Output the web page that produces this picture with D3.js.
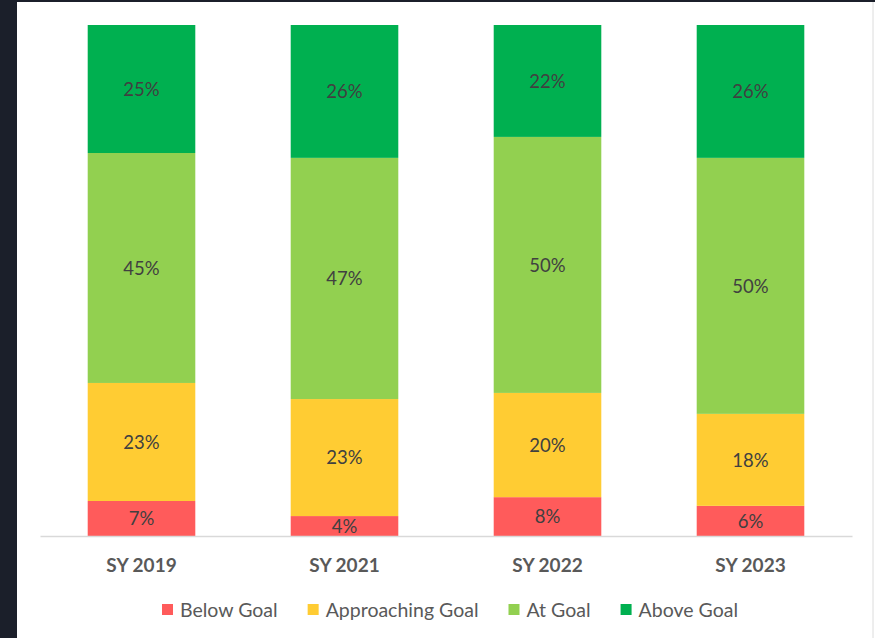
<!DOCTYPE html>
<html>
<head>
<meta charset="utf-8">
<script src="https://cdn.jsdelivr.net/npm/d3@7"></script>
<style>
  body { margin: 0; background: #1b1f2a; }
  svg { display: block; }
</style>
</head>
<body>
<div id="chart"></div>
<script>
// Chart data
var years = ["SY 2019", "SY 2021", "SY 2022", "SY 2023"];
var levels = ["Below Goal", "Approaching Goal", "At Goal", "Above Goal"];
var belowGoal = [6.85, 3.9, 7.6, 5.9];
var approachingGoal = [23.1, 22.9, 20.4, 18.0];
var atGoal = [45.0, 47.2, 50.1, 50.1];
var aboveGoal = [25.05, 26.0, 21.9, 26.0];
var colors = ["#ff5b5b", "#ffcc33", "#92d050", "#00b050"];

var svgWidth = 875;
var svgHeight = 638;

var svg = d3.select("#chart")
    .append("svg")
    .attr("width", svgWidth)
    .attr("height", svgHeight);

// dark frame + white panel
svg.append("rect")
    .attr("width", svgWidth)
    .attr("height", svgHeight)
    .attr("fill", "#1b1f2a");
svg.append("rect")
    .attr("x", 17)
    .attr("y", 2)
    .attr("width", svgWidth - 17)
    .attr("height", svgHeight - 2)
    .attr("fill", "#ffffff");
svg.append("line")
    .attr("x1", 873).attr("x2", 873)
    .attr("y1", 2).attr("y2", svgHeight)
    .attr("stroke", "#dcdcdc");

var plot = { left: 40, right: 852, top: 25, bottom: 536 };

// build rows for the stack
var rows = years.map(function (y, i) {
    return {
        year: y,
        "Below Goal": belowGoal[i],
        "Approaching Goal": approachingGoal[i],
        "At Goal": atGoal[i],
        "Above Goal": aboveGoal[i]
    };
});

var series = d3.stack().keys(levels)(rows);

var xScale = d3.scaleBand()
    .domain(years)
    .range([plot.left, plot.right])
    .paddingInner(0.47)
    .paddingOuter(0.235);

var yScale = d3.scaleLinear()
    .domain([0, 100])
    .range([plot.bottom, plot.top]);

var color = d3.scaleOrdinal().domain(levels).range(colors);

var groups = svg.append("g")
    .selectAll("g")
    .data(series)
    .enter()
    .append("g")
    .attr("fill", d => color(d.key));

groups.selectAll("rect")
    .data(d => d)
    .enter()
    .append("rect")
    .attr("x", d => xScale(d.data.year))
    .attr("y", d => yScale(d[1]))
    .attr("width", xScale.bandwidth())
    .attr("height", d => yScale(d[0]) - yScale(d[1]));

// value labels
groups.selectAll("text")
    .data(d => d)
    .enter()
    .append("text")
    .attr("x", d => xScale(d.data.year) + xScale.bandwidth() / 2)
    .attr("y", d => (yScale(d[0]) + yScale(d[1])) / 2)
    .attr("dy", "0.36em")
    .attr("text-anchor", "middle")
    .attr("font-family", "Lato, sans-serif")
    .attr("font-size", "18.5px")
    .attr("fill", "#404040")
    .text(d => Math.round(d[1] - d[0]) + "%");

// x axis
var xAxis = d3.axisBottom(xScale).tickSize(0).tickPadding(0);
var axisG = svg.append("g")
    .attr("transform", `translate(0, ${plot.bottom})`)
    .call(xAxis);
axisG.select(".domain")
    .attr("stroke", "#d9d9d9")
    .attr("stroke-width", 1.5);
axisG.selectAll(".tick text")
    .attr("y", 36)
    .attr("dy", 0)
    .attr("font-family", "Lato, sans-serif")
    .attr("font-size", "19px")
    .attr("font-weight", "bold")
    .attr("fill", "#595959");

// legend
var legend = svg.append("g").attr("transform", "translate(0, 610)");
var items = legend.selectAll("g")
    .data(levels)
    .enter()
    .append("g");
items.append("rect")
    .attr("y", -6)
    .attr("width", 11)
    .attr("height", 11)
    .attr("fill", d => color(d));
items.append("text")
    .attr("x", 18)
    .attr("dy", "0.35em")
    .attr("font-family", "Lato, sans-serif")
    .attr("font-size", "19.5px")
    .attr("fill", "#595959")
    .text(d => d);

// place legend items side by side, centred
var widths = [];
items.each(function () {
    widths.push(18 + d3.select(this).select("text").node().getComputedTextLength());
});
var gap = 30;
var total = d3.sum(widths) + gap * (widths.length - 1);
var xPos = 450 - total / 2;
items.attr("transform", function (d, i) {
    var t = `translate(${xPos}, 0)`;
    xPos += widths[i] + gap;
    return t;
});
</script>
</body>
</html>
